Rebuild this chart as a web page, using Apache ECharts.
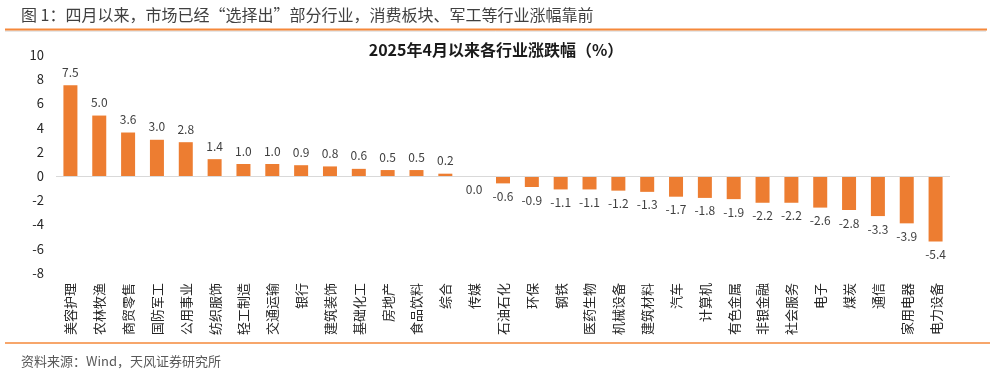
<!DOCTYPE html>
<html>
<head>
<meta charset="utf-8">
<script src="https://cdn.jsdelivr.net/npm/echarts@6/dist/echarts.min.js"></script>
<style>
html,body{margin:0;padding:0;background:#fff;}
#chart{width:992px;height:373px;}
</style>
</head>
<body>
<div id="chart"></div>
<script>
const headerTitle = '图 1：四月以来，市场已经“选择出”部分行业，消费板块、军工等行业涨幅靠前';
const chartTitle = '2025年4月以来各行业涨跌幅（%）';
const sourceText = '资料来源：Wind，天风证券研究所';
const categories = ['美容护理','农林牧渔','商贸零售','国防军工','公用事业','纺织服饰','轻工制造','交通运输','银行','建筑装饰','基础化工','房地产','食品饮料','综合','传媒','石油石化','环保','钢铁','医药生物','机械设备','建筑材料','汽车','计算机','有色金属','非银金融','社会服务','电子','煤炭','通信','家用电器','电力设备'];
const values = [7.5,5.0,3.6,3.0,2.8,1.4,1.0,1.0,0.9,0.8,0.6,0.5,0.5,0.2,0.0,-0.6,-0.9,-1.1,-1.1,-1.2,-1.3,-1.7,-1.8,-1.9,-2.2,-2.2,-2.6,-2.8,-3.3,-3.9,-5.4];
const yTicks = {min: -8, max: 10, interval: 2};

const FONT = "'Noto Sans CJK SC', sans-serif";
const chart = echarts.init(document.getElementById('chart'), null, {renderer: 'canvas'});
chart.setOption({
  animation: false,
  backgroundColor: '#fff',
  textStyle: {fontFamily: FONT},
  title: [
    {text: headerTitle, left: 16, top: 2, textStyle: {fontFamily: FONT, fontSize: 16, fontWeight: 'normal', color: '#404040'}},
    {text: chartTitle, left: 'center', top: 37, textStyle: {fontFamily: FONT, fontSize: 16, fontWeight: 'bold', color: '#1a1a1a'}},
    {text: sourceText, left: 16, top: 350, textStyle: {fontFamily: FONT, fontSize: 13, fontWeight: 'normal', color: '#595959'}}
  ],
  graphic: [
    {type: 'line', shape: {x1: 5, y1: 31, x2: 986, y2: 31}, style: {stroke: '#d0d0d0', lineWidth: 1}},
    {type: 'line', shape: {x1: 5, y1: 29.5, x2: 987, y2: 29.5}, style: {stroke: '#F5883A', lineWidth: 2}},
    {type: 'line', shape: {x1: 5, y1: 343, x2: 990, y2: 343}, style: {stroke: '#F5883A', lineWidth: 1.5}}
  ],
  grid: {left: 56, right: 42, top: 55, bottom: 100, containLabel: false},
  xAxis: {
    type: 'category',
    data: categories,
    axisLine: {show: false, onZero: false},
    axisTick: {show: false},
    axisLabel: {rotate: 90, interval: 0, fontSize: 13, color: '#262626', margin: 10, fontFamily: FONT}
  },
  yAxis: {
    type: 'value',
    min: yTicks.min, max: yTicks.max, interval: yTicks.interval,
    axisLine: {show: false},
    axisTick: {show: false},
    splitLine: {show: false},
    axisLabel: {fontSize: 13, color: '#262626', margin: 12, fontFamily: FONT}
  },
  series: [{
    type: 'bar',
    barWidth: 14,
    itemStyle: {color: '#ED7D31'},
    data: values.map(v => ({value: v, label: {position: v > 0 ? 'top' : 'bottom'}})),
    label: {show: true, distance: 7, fontSize: 12, color: '#404040', fontFamily: FONT,
      formatter: p => Number(p.value).toFixed(1)},
    markLine: {
      silent: true, symbol: 'none', label: {show: false},
      lineStyle: {color: '#d9d9d9', type: 'solid', width: 1},
      data: [{yAxis: 0}]
    }
  }]
});
</script>
</body>
</html>
